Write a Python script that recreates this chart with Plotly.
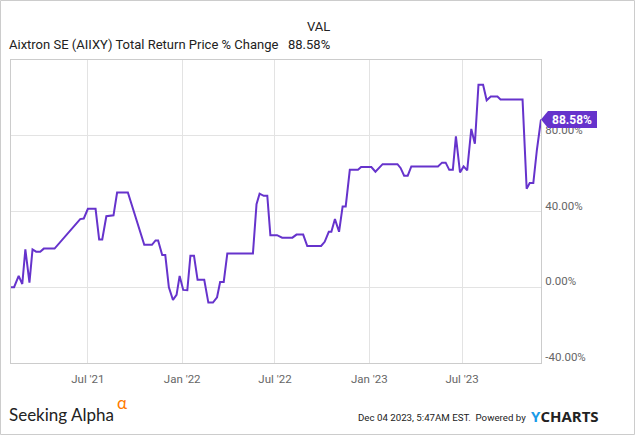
import plotly.graph_objects as go

dates = [
    "2021-02-01", "2021-02-07", "2021-02-16", "2021-02-23", "2021-03-01", "2021-03-09",
    "2021-03-15", "2021-03-22", "2021-03-30", "2021-04-06", "2021-04-27", "2021-06-16",
    "2021-06-23", "2021-07-01", "2021-07-16", "2021-07-23", "2021-07-29", "2021-08-06",
    "2021-08-20", "2021-08-27", "2021-09-17", "2021-10-19", "2021-11-03", "2021-11-10",
    "2021-11-15", "2021-11-23", "2021-11-29", "2021-12-06", "2021-12-14", "2021-12-21",
    "2021-12-27", "2022-01-03", "2022-01-11", "2022-01-17", "2022-01-24", "2022-01-31",
    "2022-02-13", "2022-02-21", "2022-03-02", "2022-03-10", "2022-03-16", "2022-03-23",
    "2022-03-30", "2022-05-19", "2022-05-26", "2022-06-01", "2022-06-09", "2022-06-16",
    "2022-06-22", "2022-07-05", "2022-07-15", "2022-08-04", "2022-08-12", "2022-08-25",
    "2022-09-02", "2022-09-29", "2022-10-06", "2022-10-14", "2022-10-19", "2022-10-26",
    "2022-11-03", "2022-11-10", "2022-11-16", "2022-11-24", "2022-12-10", "2022-12-16",
    "2023-01-05", "2023-01-13", "2023-01-27", "2023-02-25", "2023-03-03", "2023-03-10",
    "2023-03-17", "2023-03-24", "2023-05-15", "2023-05-23", "2023-05-30", "2023-06-06",
    "2023-06-13", "2023-06-19", "2023-06-27", "2023-07-04", "2023-07-11", "2023-07-19",
    "2023-07-26", "2023-08-02", "2023-08-11", "2023-08-18", "2023-08-26", "2023-09-08",
    "2023-09-14", "2023-10-27", "2023-11-04", "2023-11-10", "2023-11-17", "2023-11-24",
    "2023-12-02",
]
values = [
    0.0, 0.0, 6.0, 1.7, 20.0, 2.4,
    20.0, 18.8, 18.8, 20.4, 20.4, 36.0,
    36.3, 41.4, 41.4, 25.2, 25.2, 37.5,
    38.0, 50.0, 50.0, 22.4, 22.4, 24.7,
    24.7, 17.0, 17.0, 0.0, -6.7, -4.0,
    6.0, -1.4, -1.6, 16.6, 16.6, 3.9,
    3.9, -8.1, -8.1, -5.3, 2.8, 2.8,
    17.8, 17.8, 43.9, 49.4, 48.3, 48.3,
    27.5, 27.5, 26.2, 26.2, 27.8, 27.8,
    21.8, 21.8, 24.0, 29.3, 29.3, 36.0,
    29.3, 42.7, 42.7, 62.0, 62.0, 63.5,
    63.5, 61.0, 65.0, 65.0, 63.0, 58.9,
    58.9, 63.8, 63.8, 65.8, 65.8, 62.0,
    62.0, 79.7, 60.6, 63.8, 61.7, 83.6,
    75.8, 106.9, 106.9, 98.7, 100.7, 100.7,
    99.1, 99.1, 52.0, 55.0, 55.0, 72.6,
    88.58,
]

x_tick_vals = ["2021-07-01", "2022-01-01", "2022-07-01", "2023-01-01", "2023-07-01"]
x_tick_text = ["Jul '21", "Jan '22", "Jul '22", "Jan '23", "Jul '23"]
y_tick_vals = [-40, 0, 40, 80]
y_tick_text = ["-40.00%", "0.00%", "40.00%", "80.00%"]

series_name = "Aixtron SE (AIIXY) Total Return Price % Change"
last_label = "88.58%"

PURPLE = "#6633cc"
GRID = "#e3e3e3"
FONT = "Roboto"

fig = go.Figure()
fig.add_trace(go.Scatter(
    x=dates, y=values, mode="lines",
    line=dict(color=PURPLE, width=2),
    hoverinfo="skip", showlegend=False,
))

L, R, T, B = 11, 94, 60, 72
W, H = 635, 435
pw, ph = W - L - R, H - T - B

def px(xp):
    return (xp - L) / pw

def py(yp):
    return (H - B - yp) / ph

fig.update_layout(
    width=W, height=H,
    margin=dict(l=L, r=R, t=T, b=B),
    paper_bgcolor="white", plot_bgcolor="white",
    font=dict(family=FONT, color="#333"),
    xaxis=dict(
        range=[dates[0], dates[-1]],
        tickmode="array", tickvals=x_tick_vals, ticktext=x_tick_text,
        showgrid=True, gridcolor=GRID, gridwidth=1,
        showline=True, linecolor="#cccccc", linewidth=1, mirror=True,
        ticks="", tickfont=dict(family=FONT, size=11.5, color="#666"),
        ticklabelstandoff=5,
        zeroline=False, fixedrange=True,
    ),
    yaxis=dict(
        range=[-40, 120], side="right",
        tickmode="array", tickvals=y_tick_vals, ticktext=y_tick_text,
        showgrid=True, gridcolor=GRID, gridwidth=1,
        showline=True, linecolor="#cccccc", linewidth=1, mirror=True,
        ticks="", tickfont=dict(family=FONT, size=11.5, color="#666"),
        ticklabelstandoff=1, ticklabelshift=-6,
        zeroline=False, fixedrange=True,
    ),
)

# value tag (arrow + box) anchored at the last point (right edge of the plot)
fig.add_shape(
    type="path", xref="paper", yref="y",
    xsizemode="pixel", ysizemode="pixel",
    xanchor=1, yanchor=values[-1],
    path="M0,0 L7,8.5 L56,8.5 L56,-8.5 L7,-8.5 Z",
    fillcolor=PURPLE, line=dict(width=0), layer="above",
)
fig.add_annotation(
    x=1, y=values[-1], xref="paper", yref="y",
    text="<b>" + last_label + "</b>", showarrow=False,
    xanchor="left", yanchor="middle", xshift=9,
    font=dict(family=FONT, size=12, color="white"),
)

# header
fig.add_annotation(x=px(332), y=py(27), xref="paper", yref="paper",
                   text="VAL", showarrow=False, xanchor="right", yanchor="middle",
                   font=dict(family=FONT, size=13, color="#222"))
fig.add_annotation(x=px(7), y=py(45), xref="paper", yref="paper",
                   text=series_name, showarrow=False, xanchor="left", yanchor="middle",
                   font=dict(family=FONT, size=13, color="#222"))
fig.add_annotation(x=px(332), y=py(45), xref="paper", yref="paper",
                   text=last_label, showarrow=False, xanchor="right", yanchor="middle",
                   font=dict(family=FONT, size=13, color="#222"))

# footer
fig.add_annotation(x=px(7), y=py(414), xref="paper", yref="paper",
                   text="Seeking Alpha",
                   showarrow=False, xanchor="left", yanchor="middle",
                   font=dict(family="Lato", size=17, color="#222"))
fig.add_annotation(x=px(115), y=py(402), xref="paper", yref="paper",
                   text="α",
                   showarrow=False, xanchor="left", yanchor="middle",
                   font=dict(family="Lato", size=17, color="#ff7a00"))
fig.add_annotation(x=px(528), y=py(417), xref="paper", yref="paper",
                   text="Dec 04 2023, 5:47AM EST.  Powered by",
                   showarrow=False, xanchor="right", yanchor="middle",
                   font=dict(family=FONT, size=9.7, color="#222"))
fig.add_annotation(x=px(529), y=py(416), xref="paper", yref="paper",
                   text="<b><span style='color:#1a9be8'>Y</span>CHARTS</b>",
                   showarrow=False, xanchor="left", yanchor="middle",
                   font=dict(family="Open Sans", size=15, color="#222"))

# outer border
fig.add_shape(type="rect", xref="paper", yref="paper",
              x0=px(0.5), x1=px(634.5), y0=py(434.5), y1=py(0.5),
              line=dict(color="#cccccc", width=1), fillcolor="rgba(0,0,0,0)",
              layer="below")

fig.write_html("out.html")
